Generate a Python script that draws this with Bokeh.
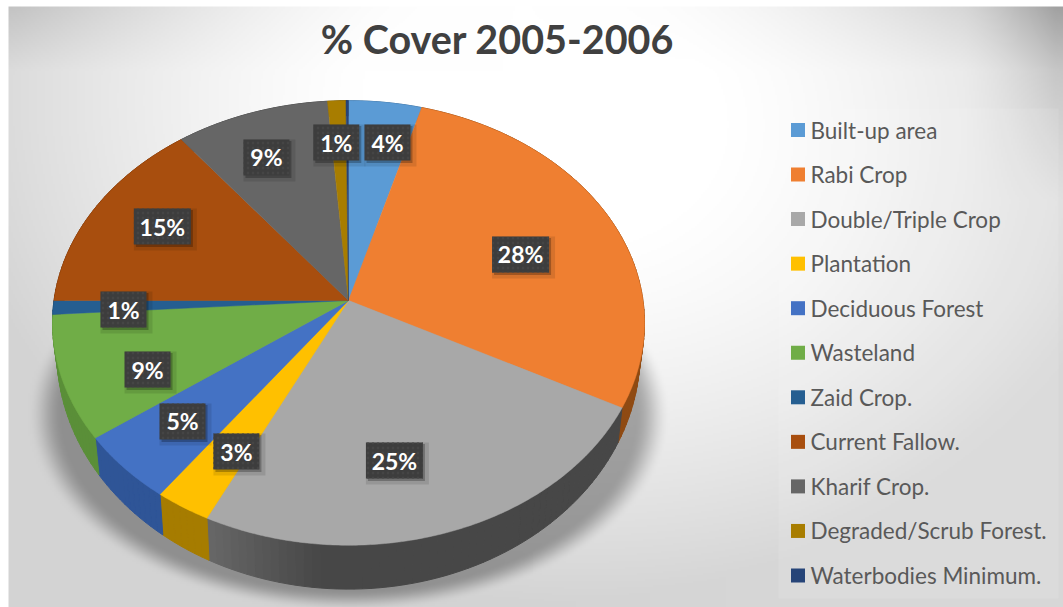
import numpy as np
from bokeh.plotting import figure
from bokeh.models import Range1d
from bokeh.core.properties import value
from bokeh.embed import file_html
from bokeh.resources import INLINE

title = "% Cover 2005-2006"
categories = ["Built-up area", "Rabi Crop", "Double/Triple Crop", "Plantation", "Deciduous Forest",
              "Wasteland", "Zaid Crop.", "Current Fallow.", "Kharif Crop.",
              "Degraded/Scrub Forest.", "Waterbodies Minimum."]
values = [4.4, 28.3, 24.5, 2.8, 5.0, 9.0, 1.0, 14.5, 9.25, 1.1, 0.15]
labels = ["4%", "28%", "25%", "3%", "5%", "9%", "1%", "15%", "9%", "1%", ""]
top_colors = ["#5b9bd5", "#ef7f31", "#a8a8a8", "#ffc000", "#4472c4", "#70ad47",
              "#255e91", "#a84e0e", "#666666", "#a87d00", "#264478"]
side_colors = ["#41709a", "#8f4a12", "#474747", "#a67c00", "#2f5597", "#5a8f38",
               "#1c4569", "#73340a", "#484848", "#6e5300", "#1b3156"]
label_theta = [10.45, 70.3, 167.9, 209.0, 225.7, 245.3, 266.9, 298.0, 336.8, 356.7]
label_r = [0.787, 0.634, 0.693, 0.734, 0.746, 0.728, 0.762, 0.741, 0.757, 0.775]

# layout (page pixels)
CX, CY, A, B, K = 348.0, 300.0, 220.0, 294.5, 0.101
SHRINK = 0.985
LEFT, RIGHT, TOP, BOTTOM = 0, 1063, 0, 607


def project(theta_deg, r=1.0):
    t = np.radians(theta_deg)
    den = 1 + K * r * np.cos(t)
    return CX + B * r * np.sin(t) / den, -(CY - A * r * np.cos(t) / den)


def lower(x, y):
    y = -y
    return CX + (x - CX) * SHRINK, -(CY + (y - CY) * SHRINK + 28 + 0.08 * (y - CY))


p = figure(width=RIGHT - LEFT, height=BOTTOM - TOP, x_range=Range1d(LEFT, RIGHT), y_range=Range1d(-BOTTOM, -TOP),
           output_backend="svg", toolbar_location=None, min_border=0, outline_line_color=None)
p.axis.visible = False
p.grid.visible = False

# background with radial gradient and soft shadow
gx, gy = np.meshgrid(np.arange(LEFT, RIGHT, 2.0), np.arange(BOTTOM, TOP, -2.0))
rx = np.where(gx < 520, 640.0, 720.0)
rad = np.hypot((gx - 520) / rx, (gy - 100) / 560)
shade = 255 - 44 * np.clip((rad - 0.25) / 0.65, 0, 1) ** 1.3
shade += 4 * np.clip((gx - 500) / 300, 0, 1) * np.clip(gy / 300, 0, 1)
shade -= 25 * np.clip(1 - gy / 70, 0, 1) * np.clip(np.abs(gx - 520) / 500, 0, 1) ** 2
shade -= 40 * np.clip((gx - 960) / 95, 0, 1) ** 1.5 * np.clip(1 - gy / 200, 0, 1)
d = np.hypot((gx - CX) / 322, (gy - 415) / 197)
edge = np.clip((1.0 - d) / 0.11, 0, 1)
shade *= 1 - 0.32 * edge * edge * (3 - 2 * edge)
shade[(gx < 8) | (gy < 7)] = 255
grey = np.clip(shade, 0, 255).astype(np.uint32)
img = (255 << 24) | (grey << 16) | (grey << 8) | grey
p.image_rgba(image=[img.astype(np.uint32)], x=LEFT, y=-BOTTOM, dw=RIGHT - LEFT, dh=BOTTOM - TOP)

edges = np.concatenate([[0], np.cumsum(values)]) / np.sum(values) * 360

# extruded side
xs, ys, cols = [], [], []
for i in range(len(values)):
    n = max(2, int((edges[i + 1] - edges[i]) / 1.5) + 1)
    th = np.linspace(edges[i], edges[i + 1], n + 1)
    base = np.array([int(side_colors[i][j:j + 2], 16) for j in (1, 3, 5)], float)
    for j in range(n):
        x0, y0 = project(th[j])
        x1, y1 = project(th[j + 1])
        x2, y2 = lower(x1, y1)
        x3, y3 = lower(x0, y0)
        # light falls on the left end of the long grey side
        glow = 34 * np.clip((th[j] - (edges[i + 1] - 22)) / 22, 0, 1) if categories[i].startswith("Double") else 0
        c = np.clip(base + glow, 0, 255).astype(int)
        xs.append([x0, x1, x2, x3])
        ys.append([y0, y1, y2, y3])
        cols.append("#%02x%02x%02x" % tuple(c))
p.patches(xs, ys, fill_color=cols, line_color=cols, line_width=1)

# top surface
for i in range(len(values)):
    th = np.linspace(edges[i], edges[i + 1], max(3, int(edges[i + 1] - edges[i]) * 2))
    x, y = project(th)
    p.patch(np.r_[CX, x], np.r_[-CY, y], fill_color=top_colors[i], line_color=top_colors[i], line_width=0.5)

# data labels
lx, ly = project(np.array(label_theta), np.array(label_r))
lab = labels[:len(label_theta)]
w = [46 if len(s) == 2 else 57 for s in lab]
p.rect(lx + 3, ly - 3, width=[v + 6 for v in w], height=42, width_units="screen", height_units="screen",
       fill_color="black", fill_alpha=0.10, line_color=None)
p.rect(lx + 2, ly - 2, width=w, height=37, width_units="screen", height_units="screen",
       fill_color="black", fill_alpha=0.25, line_color=None)
p.rect(lx, ly, width=w, height=36, width_units="screen", height_units="screen",
       fill_color="#3d3d3d", line_color=None, hatch_pattern="dot", hatch_color="#454545", hatch_scale=5)
p.text(lx, ly, text=lab, text_color="white", text_align="center", text_baseline="middle",
       text_font=value("Lato"), text_font_style="bold", text_font_size="23px")

# title
p.text([497], [-38], text=[title], text_color="#404040", text_align="center", text_baseline="middle",
       text_font=value("Lato"), text_font_style="bold", text_font_size="39.5px")

# legend
p.quad(left=[778], right=[1058], top=[-108], bottom=[-598], fill_color="white", fill_alpha=0.10, line_color=None)
rows = np.arange(len(categories))
ly2 = -(129.5 + rows * 44.55)
p.rect(np.full(len(rows), 797.5), ly2, width=14, height=14, width_units="screen", height_units="screen",
       fill_color=top_colors, line_color=None)
p.text(np.full(len(rows), 810), ly2, text=categories, text_color="#595959", text_align="left", text_baseline="middle",
       text_font=value("Lato"), text_font_size="22.5px")

open("out.html", "w").write(file_html(p, INLINE))
